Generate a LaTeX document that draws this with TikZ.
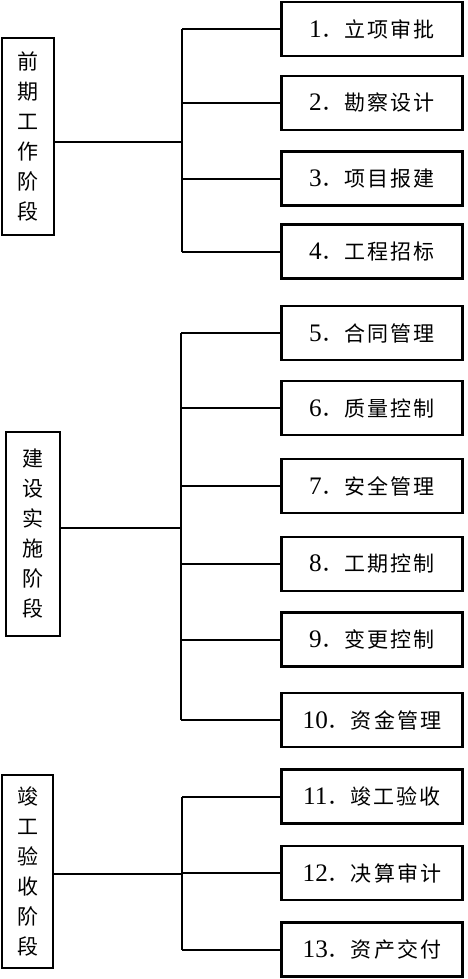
\documentclass[tikz,border=0pt]{standalone}
\usepackage{fontspec}
\newfontfamily\cjk[LetterSpace=10]{Noto Sans CJK SC}
\newfontfamily\numfont[Scale=1.2]{Liberation Serif}

\begin{document}
\begin{tikzpicture}[x=1pt,y=-1pt,
    phasebox/.style={draw, line width=2.2pt, inner sep=0pt, align=center,
        font=\cjk\fontsize{21}{30}\selectfont},
    itembox/.style={draw, line width=2.2pt, inner sep=0pt,
        minimum width=181pt, minimum height=54pt,
        font=\cjk\fontsize{21}{25}\selectfont},
    link/.style={line width=2pt}]
    \useasboundingbox (0,0) rectangle (468,979);

    % Phases
    \node[phasebox, minimum width=52pt, minimum height=197pt] (ph1) at (28,136.5) {前\\期\\工\\作\\阶\\段};
    \node[phasebox, minimum width=54pt, minimum height=204pt] (ph2) at (33,534) {建\\设\\实\\施\\阶\\段};
    \node[phasebox, minimum width=51pt, minimum height=193pt] (ph3) at (27.5,871.5) {竣\\工\\验\\收\\阶\\段};

    % Items
    \foreach \n/\t/\y in {1/立项审批/29, 2/勘察设计/103, 3/项目报建/178.5, 4/工程招标/251.5,
                          5/合同管理/333, 6/质量控制/408, 7/安全管理/486, 8/工期控制/564,
                          9/变更控制/639.5, 10/资金管理/720, 11/竣工验收/796.5,
                          12/决算审计/873, 13/资产交付/949.5} {
        \node[itembox] (it\n) at (372,\y) {{\numfont\n}．\t};
    }

    % Buses
    \coordinate (bus1) at (182,142);
    \coordinate (bus2) at (181,528);
    \coordinate (bus3) at (182,874);

    \draw[link] (ph1.east |- bus1) -- (bus1);
    \draw[link] (bus1 |- it1.west) -- (bus1 |- it4.west);
    \foreach \n in {1,...,4} \draw[link] (bus1 |- it\n.west) -- (it\n.west);

    \draw[link] (ph2.east |- bus2) -- (bus2);
    \draw[link] (bus2 |- it5.west) -- (bus2 |- it10.west);
    \foreach \n in {5,...,10} \draw[link] (bus2 |- it\n.west) -- (it\n.west);

    \draw[link] (ph3.east |- bus3) -- (bus3);
    \draw[link] (bus3 |- it11.west) -- (bus3 |- it13.west);
    \foreach \n in {11,...,13} \draw[link] (bus3 |- it\n.west) -- (it\n.west);
\end{tikzpicture}
\end{document}
